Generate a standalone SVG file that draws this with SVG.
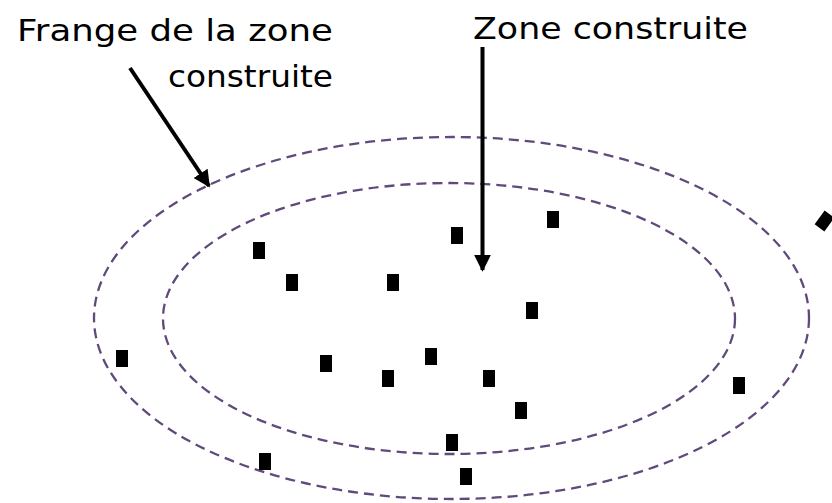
<svg xmlns="http://www.w3.org/2000/svg" width="832" height="503" viewBox="0 0 832 503">
<defs>
<style>
.zone{fill:none;stroke:#604a7b;stroke-width:2.3;stroke-dasharray:10 6}
.b{fill:#000}
.lbl{font-family:"DejaVu Sans","Liberation Sans",sans-serif;font-size:31px;fill:#000}
.arr{stroke:#000;stroke-width:4;fill:none}
</style>
<marker id="ah" viewBox="0 0 10 10" refX="9" refY="5" markerWidth="4.2" markerHeight="4.2" orient="auto" markerUnits="strokeWidth">
<path d="M0,0 L10,5 L0,10 Z" fill="#000"/>
</marker>
</defs>
<rect width="832" height="503" fill="#fff"/>
<g id="outer-zone"><ellipse class="zone" cx="451.5" cy="318" rx="357.5" ry="181"/></g>
<g id="inner-zone"><ellipse class="zone" cx="449" cy="318.5" rx="286" ry="135.5"/></g>
<g id="buildings">
<rect class="b" x="253" y="242" width="12" height="17"/>
<rect class="b" x="286" y="274" width="12" height="17"/>
<rect class="b" x="387" y="274" width="12" height="17"/>
<rect class="b" x="451" y="227" width="12" height="17"/>
<rect class="b" x="547" y="211" width="12" height="17"/>
<rect class="b" x="526" y="302" width="12" height="17"/>
<rect class="b" x="116" y="350" width="12" height="17"/>
<rect class="b" x="320" y="355" width="12" height="17"/>
<rect class="b" x="382" y="370" width="12" height="17"/>
<rect class="b" x="425" y="348" width="12" height="17"/>
<rect class="b" x="483" y="370" width="12" height="17"/>
<rect class="b" x="515" y="402" width="12" height="17"/>
<rect class="b" x="446" y="434" width="12" height="17"/>
<rect class="b" x="259" y="453" width="12" height="17"/>
<rect class="b" x="460" y="468" width="12" height="17"/>
<rect class="b" x="733" y="377" width="12" height="17"/>
<rect class="b" x="818.5" y="212.5" width="12" height="17" transform="rotate(36 824.5 221)"/>
</g>
<g id="label-frange">
<text class="lbl" x="17" y="41" textLength="316" lengthAdjust="spacingAndGlyphs">Frange de la zone</text>
<text class="lbl" x="168" y="87" textLength="165" lengthAdjust="spacingAndGlyphs">construite</text>
</g>
<g id="label-zone">
<text class="lbl" x="473" y="39" textLength="275" lengthAdjust="spacingAndGlyphs">Zone construite</text>
</g>
<g id="connectors">
<line class="arr" x1="130" y1="68" x2="209" y2="186" marker-end="url(#ah)"/>
<line class="arr" x1="482.5" y1="47" x2="482.5" y2="270" marker-end="url(#ah)"/>
</g>
</svg>
